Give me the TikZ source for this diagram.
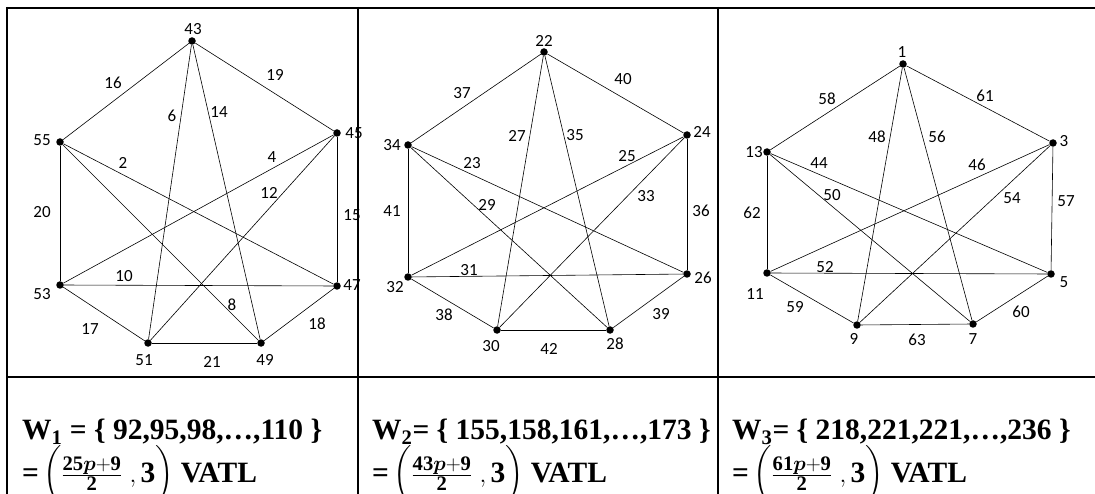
\documentclass[tikz,border=0pt]{standalone}
\usepackage{amsmath}
\usepackage{amsbsy}
\usepackage{fontspec}
\setmainfont{Liberation Serif}
\newfontfamily\numfamily{Carlito}
\newcommand{\numfont}{\numfamily\fontsize{17}{17}\selectfont}
\newcommand{\wfont}{\bfseries\fontsize{29.5}{32}\selectfont}
\newcommand{\vatl}[1]{=$\,\biggl(\frac{\mathbf{#1}\boldsymbol{p}\mathbf{+9}}{\mathbf{2}}\ ,\mathbf{3}\biggr)$ VATL}
\usetikzlibrary{positioning}

\begin{document}
\begin{tikzpicture}[
    x=1pt, y=-1pt,
    vtx/.style={circle, fill=black, inner sep=0pt, minimum size=7.5pt},
    num/.style={font=\numfont, inner sep=0pt},
    edge/.style={line width=0.6pt, black},
    rule/.style={line width=2.4pt, black},
    wtext/.style={font=\wfont, anchor=base west, inner sep=0pt}
]
    \useasboundingbox (0,0) rectangle (1095,494);

    % table rules
    \draw[rule] (7,8) -- (1095,8);
    \draw[rule] (7,377) -- (1095,377);
    \draw[rule] (7,7) -- (7,494);
    \draw[rule] (358,7) -- (358,494);
    \draw[rule] (718,7) -- (718,494);

    % first graph
    \node[vtx] (v43) at (192,41) {};
    \node[vtx] (v45) at (337,133) {};
    \node[vtx] (v47) at (337,286) {};
    \node[vtx] (v49) at (261,343) {};
    \node[vtx] (v51) at (148,343) {};
    \node[vtx] (v53) at (60,285) {};
    \node[vtx] (v55) at (60,142) {};

    \node[num] (t43) at (193,29) {43};
    \node[num] (t45) at (354,133) {45};
    \node[num] (t47) at (352,285) {47};
    \node[num] (t49) at (265,360) {49};
    \node[num] (t51) at (144,360) {51};
    \node[num] (t53) at (42,294) {53};
    \node[num] (t55) at (42,140) {55};

    \draw[edge] (v43) -- (v45);
    \draw[edge] (v45) -- (v47);
    \draw[edge] (v47) -- (v49);
    \draw[edge] (v49) -- (v51);
    \draw[edge] (v51) -- (v53);
    \draw[edge] (v53) -- (v55);
    \draw[edge] (v55) -- (v43);
    \draw[edge] (v43) -- (v51);
    \draw[edge] (v43) -- (v49);
    \draw[edge] (v55) -- (v47);
    \draw[edge] (v55) -- (v49);
    \draw[edge] (v45) -- (v53);
    \draw[edge] (v45) -- (v51);
    \draw[edge] (v53) -- (v47);

    \node[num] (e16) at (113,83) {16};
    \node[num] (e19) at (275,75) {19};
    \node[num] (e6) at (172,116) {6};
    \node[num] (e14) at (219,112) {14};
    \node[num] (e2) at (123,163) {2};
    \node[num] (e4) at (272,157) {4};
    \node[num] (e12) at (269,193) {12};
    \node[num] (e20) at (42,212) {20};
    \node[num] (e15) at (352,215) {15};
    \node[num] (e10) at (124,276) {10};
    \node[num] (e8) at (232,305) {8};
    \node[num] (e17) at (90,329) {17};
    \node[num] (e18) at (317,324) {18};
    \node[num] (e21) at (212,362) {21};

    % second graph
    \node[vtx] (v22) at (544,52) {};
    \node[vtx] (v24) at (687,135) {};
    \node[vtx] (v26) at (687,274) {};
    \node[vtx] (v28) at (610,330) {};
    \node[vtx] (v30) at (497,330) {};
    \node[vtx] (v32) at (408,277) {};
    \node[vtx] (v34) at (408,145) {};

    \node[num] (t22) at (544,41) {22};
    \node[num] (t24) at (702,132) {24};
    \node[num] (t26) at (703,278) {26};
    \node[num] (t28) at (615,344) {28};
    \node[num] (t30) at (491,346) {30};
    \node[num] (t32) at (395,287) {32};
    \node[num] (t34) at (392,145) {34};

    \draw[edge] (v22) -- (v24);
    \draw[edge] (v24) -- (v26);
    \draw[edge] (v26) -- (v28);
    \draw[edge] (v28) -- (v30);
    \draw[edge] (v30) -- (v32);
    \draw[edge] (v32) -- (v34);
    \draw[edge] (v34) -- (v22);
    \draw[edge] (v22) -- (v30);
    \draw[edge] (v22) -- (v28);
    \draw[edge] (v34) -- (v26);
    \draw[edge] (v34) -- (v28);
    \draw[edge] (v24) -- (v32);
    \draw[edge] (v24) -- (v30);
    \draw[edge] (v32) -- (v26);

    \node[num] (e37) at (462,93) {37};
    \node[num] (e40) at (623,79) {40};
    \node[num] (e27) at (517,136) {27};
    \node[num] (e35) at (575,135) {35};
    \node[num] (e23) at (472,163) {23};
    \node[num] (e25) at (627,156) {25};
    \node[num] (e33) at (646,196) {33};
    \node[num] (e41) at (392,211) {41};
    \node[num] (e36) at (701,211) {36};
    \node[num] (e29) at (487,205) {29};
    \node[num] (e31) at (469,270) {31};
    \node[num] (e38) at (444,315) {38};
    \node[num] (e39) at (661,314) {39};
    \node[num] (e42) at (549,349) {42};

    % third graph
    \node[vtx] (v1) at (903,64) {};
    \node[vtx] (v3) at (1053,143) {};
    \node[vtx] (v5) at (1051,274) {};
    \node[vtx] (v7) at (973,324) {};
    \node[vtx] (v9) at (857,325) {};
    \node[vtx] (v11) at (767,273) {};
    \node[vtx] (v13) at (767,152) {};

    \node[num] (t1) at (902,52) {1};
    \node[num] (t3) at (1064,141) {3};
    \node[num] (t5) at (1064,282) {5};
    \node[num] (t7) at (973,339) {7};
    \node[num] (t9) at (854,339) {9};
    \node[num] (t11) at (755,294) {11};
    \node[num] (t13) at (754,152) {13};

    \draw[edge] (v1) -- (v3);
    \draw[edge] (v3) -- (v5);
    \draw[edge] (v5) -- (v7);
    \draw[edge] (v7) -- (v9);
    \draw[edge] (v9) -- (v11);
    \draw[edge] (v11) -- (v13);
    \draw[edge] (v13) -- (v1);
    \draw[edge] (v1) -- (v9);
    \draw[edge] (v1) -- (v7);
    \draw[edge] (v13) -- (v5);
    \draw[edge] (v13) -- (v7);
    \draw[edge] (v3) -- (v11);
    \draw[edge] (v3) -- (v9);
    \draw[edge] (v11) -- (v5);

    \node[num] (e58) at (827,99) {58};
    \node[num] (e61) at (985,96) {61};
    \node[num] (e48) at (877,137) {48};
    \node[num] (e56) at (937,137) {56};
    \node[num] (e44) at (819,163) {44};
    \node[num] (e46) at (977,165) {46};
    \node[num] (e50) at (832,195) {50};
    \node[num] (e54) at (1012,198) {54};
    \node[num] (e57) at (1066,201) {57};
    \node[num] (e62) at (752,213) {62};
    \node[num] (e52) at (825,267) {52};
    \node[num] (e59) at (795,307) {59};
    \node[num] (e60) at (1021,312) {60};
    \node[num] (e63) at (917,340) {63};

    % sets below the graphs
    \node[wtext] (w1) at (22,439) {W\textsubscript{1} = \{ 92,95,98,\ldots,110 \}};
    \node[wtext] (f1) at (22,482) {\vatl{25}};
    \node[wtext] (w2) at (372,439) {W\textsubscript{2}= \{ 155,158,161,\ldots,173 \}};
    \node[wtext] (f2) at (372,482) {\vatl{43}};
    \node[wtext] (w3) at (732,439) {W\textsubscript{3}= \{ 218,221,221,\ldots,236 \}};
    \node[wtext] (f3) at (732,482) {\vatl{61}};
\end{tikzpicture}
\end{document}
